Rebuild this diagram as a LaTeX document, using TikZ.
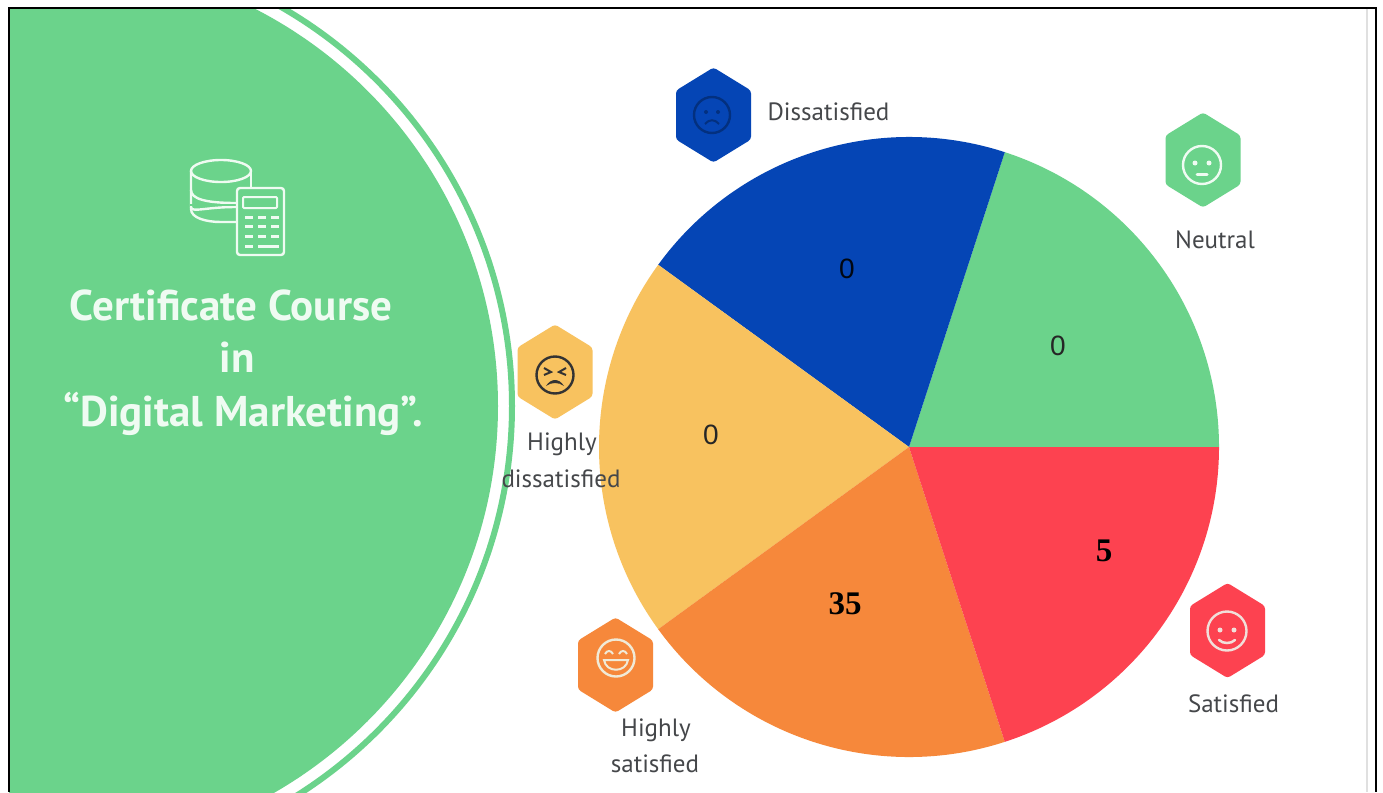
\documentclass[tikz,border=0pt]{standalone}
\usepackage{fontspec}
\setmainfont{PT Sans}
\newfontfamily\numsans{Liberation Sans}
\newfontfamily\numserif{Liberation Serif}
\definecolor{cgreen}{HTML}{6BD38B}
\definecolor{cblue}{HTML}{0545B5}
\definecolor{cyellow}{HTML}{F8C25F}
\definecolor{corange}{HTML}{F6883B}
\definecolor{cred}{HTML}{FD4250}
\definecolor{cwhite}{HTML}{EFFBF2}
\definecolor{ctext}{HTML}{45474A}
\tikzset{
  x=1pt,y=-1pt,
  hexa/.pic={\fill[rounded corners=3pt,pic actions] (0,-47.5)--(37.5,-24.5)--(37.5,24.5)--(0,47.5)--(-37.5,24.5)--(-37.5,-24.5)--cycle;},
  lab/.style={font=\fontsize{25}{25}\selectfont,text=ctext,anchor=base,inner sep=0pt},
  titletext/.style={font=\fontsize{43}{43}\selectfont\bfseries,text=cwhite,anchor=base,inner sep=0pt},
  numa/.style={font=\fontsize{28}{28}\selectfont\numsans,text=black!85,inner sep=0pt},
  numb/.style={font=\fontsize{33}{33}\selectfont\numserif\bfseries,text=black,inner sep=0pt},
  wedge/.style={line width=0pt},
  facering/.style={line width=2.4pt,fill=none},
  icon/.style={cwhite,line width=2.4pt,line join=round,line cap=round},
}
\begin{document}
\begin{tikzpicture}
\useasboundingbox (0,0) rectangle (1383,792);
\fill[white] (0,0) rectangle (1383,792);
% big circle, clipped by the frame
\begin{scope}
  \clip (9,8) rectangle (1376,792);
  \fill[cgreen] (52,406) circle[radius=446];
  \draw[cgreen,line width=6pt] (52,406) circle[radius=460];
\end{scope}
% database + calculator icon
\draw[icon] (221,171) ellipse[x radius=30,y radius=11];
\draw[icon] (191,171) -- (191,209) .. controls (191,218) and (206,222) .. (221,222) -- (236,222);
\draw[icon] (251,171) -- (251,187);
\draw[icon] (191,190) .. controls (191,199) and (206,203) .. (236,203);
\draw[icon] (191,207) .. controls (191,213) and (206,207) .. (236,207);
\fill[cgreen] (190,204) rectangle (236,206);
\draw[icon,rounded corners=3pt] (237,188) rectangle (284,255);
\draw[icon,line width=2pt,rounded corners=1pt] (243,197) rectangle (277,208);
\foreach \yy in {217,226,236}{
  \foreach \xx in {245,258,271}{
    \draw[cwhite,line width=3pt] (\xx,\yy) -- +(8,0);
  }
}
\draw[cwhite,line width=3pt] (245,246) -- +(8,0);
\draw[cwhite,line width=3pt] (258,246) -- +(21,0);
% title
\node[titletext] (t1) at (231,320) {Certificate Course};
\node[titletext] (t2) at (237,372) {in};
\node[titletext] (t3) at (243,426) {“Digital Marketing”.};
% pie
\coordinate (c) at (909,447);
\fill[cgreen]  (c) -- ++(0:310) arc[start angle=0,end angle=-72,radius=310] -- cycle;
\fill[cblue]   (c) -- ++(-72:310) arc[start angle=-72,end angle=-144,radius=310] -- cycle;
\fill[cyellow] (c) -- ++(-144:310) arc[start angle=-144,end angle=-216,radius=310] -- cycle;
\fill[corange] (c) -- ++(-216:310) arc[start angle=-216,end angle=-288,radius=310] -- cycle;
\fill[cred]    (c) -- ++(-288:310) arc[start angle=-288,end angle=-360,radius=310] -- cycle;
\node[numa,text=black!90!cblue] (n1) at (847,269) {0};
\node[numa] (n2) at (1058,346) {0};
\node[numa] (n3) at (711,435) {0};
\node[numb] (n4) at (1104,551) {5};
\node[numb] (n5) at (845,604) {35};
% hexagons
\pic[fill=cblue]   at (713.5,115) {hexa};
\pic[fill=cgreen]  at (1203,160) {hexa};
\pic[fill=cyellow] at (555,372) {hexa};
\pic[fill=corange] at (615.5,665) {hexa};
\pic[fill=cred]    at (1227.5,630.5) {hexa};
% faces: dissatisfied
\begin{scope}[shift={(712,115)},draw=black!30!cblue,color=black!30!cblue]
  \draw[facering] (0,0) circle[radius=18];
  \fill (-6,-3) circle[radius=2]; \fill (6,-3) circle[radius=2];
  \draw[line width=2pt] (-7,9) .. controls (-3,4) and (3,4) .. (7,9);
\end{scope}
% neutral
\begin{scope}[shift={(1202,165)},color=cwhite]
  \draw[facering] (0,0) circle[radius=19];
  \fill (-7,-2) circle[radius=2.5]; \fill (7,-2) circle[radius=2.5];
  \draw[line width=3pt,line cap=round] (-5,9) -- (5,9);
\end{scope}
% highly dissatisfied
\begin{scope}[shift={(555,375)},color=black!80]
  \draw[facering] (0,0) circle[radius=18.5];
  \draw[line width=2pt] (-11,-7) -- (-4,-3) -- (-11,0);
  \draw[line width=2pt] (11,-7) -- (4,-3) -- (11,0);
  \fill (-9,11) .. controls (-4,3) and (4,3) .. (9,11) .. controls (4,7) and (-4,7) .. cycle;
\end{scope}
% highly satisfied
\begin{scope}[shift={(616,658)},color=cwhite!85!corange]
  \draw[facering] (0,0) circle[radius=18.5];
  \draw[line width=2pt] (-11,-4) .. controls (-9,-8) and (-5,-8) .. (-3,-4);
  \draw[line width=2pt] (11,-4) .. controls (9,-8) and (5,-8) .. (3,-4);
  \draw[line width=2pt] (-12,2) -- (12,2) .. controls (10,15) and (-10,15) .. (-12,2) -- cycle;
\end{scope}
% satisfied
\begin{scope}[shift={(1227,631)},color=cwhite!85!cred]
  \draw[facering] (0,0) circle[radius=19.5];
  \fill (-7,-1) circle[radius=2.5]; \fill (7,-1) circle[radius=2.5];
  \draw[line width=2.5pt,line cap=round] (-8,9) .. controls (-4,13) and (4,13) .. (8,9);
\end{scope}
% labels
\node[lab] (l1) at (828.5,120) {Dissatisfied};
\node[lab] (l2) at (1215,248) {Neutral};
\node[lab] (l3) at (562,450) {Highly};
\node[lab] (l4) at (561,487) {dissatisfied};
\node[lab] (l5) at (656,736) {Highly};
\node[lab] (l6) at (655,772) {satisfied};
\node[lab] (l7) at (1233.5,712) {Satisfied};
% frame
\draw[black,line width=2pt] (9,792) -- (9,8) -- (1376,8) -- (1376,792);
\draw[black!12,line width=2.5pt] (1367,9) -- (1367,792);
\end{tikzpicture}
\end{document}
